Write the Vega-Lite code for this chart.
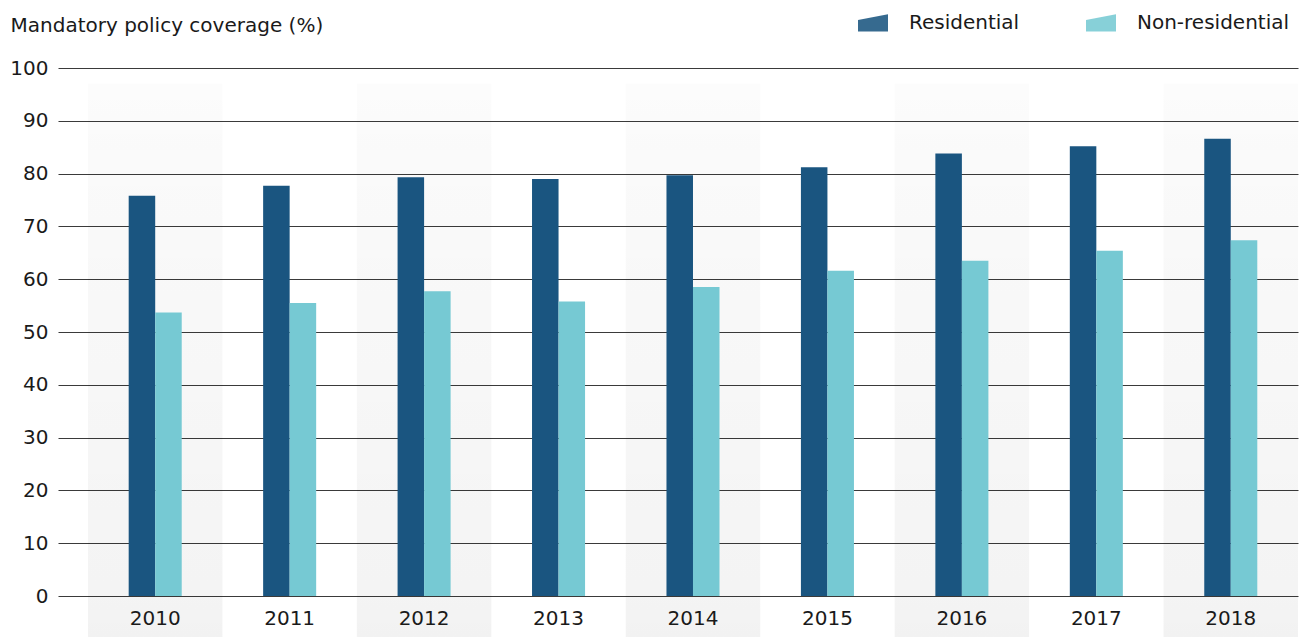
{
  "$schema": "https://vega.github.io/schema/vega-lite/v6.json",
  "width": 1240,
  "height": 528,
  "autosize": "none",
  "padding": {"left": 58, "top": 68, "right": 1, "bottom": 41},
  "background": "white",
  "config": {"view": {"stroke": null}, "font": "DejaVu Sans"},
  "datasets": {
    "bars": [
      {"year": 2010, "type": "Residential", "value": 75.8},
      {"year": 2010, "type": "Non-residential", "value": 53.7},
      {"year": 2011, "type": "Residential", "value": 77.7},
      {"year": 2011, "type": "Non-residential", "value": 55.5},
      {"year": 2012, "type": "Residential", "value": 79.3},
      {"year": 2012, "type": "Non-residential", "value": 57.7},
      {"year": 2013, "type": "Residential", "value": 79.0},
      {"year": 2013, "type": "Non-residential", "value": 55.8},
      {"year": 2014, "type": "Residential", "value": 79.7},
      {"year": 2014, "type": "Non-residential", "value": 58.5},
      {"year": 2015, "type": "Residential", "value": 81.2},
      {"year": 2015, "type": "Non-residential", "value": 61.6},
      {"year": 2016, "type": "Residential", "value": 83.8},
      {"year": 2016, "type": "Non-residential", "value": 63.5},
      {"year": 2017, "type": "Residential", "value": 85.2},
      {"year": 2017, "type": "Non-residential", "value": 65.4},
      {"year": 2018, "type": "Residential", "value": 86.6},
      {"year": 2018, "type": "Non-residential", "value": 67.4}
    ],
    "bands": [
      {"year": 2010}, {"year": 2012}, {"year": 2014}, {"year": 2016}, {"year": 2018}
    ]
  },
  "encoding": {
    "x": {
      "field": "year",
      "type": "ordinal",
      "scale": {
        "type": "band",
        "domain": [2010, 2011, 2012, 2013, 2014, 2015, 2016, 2017, 2018],
        "paddingInner": 0,
        "paddingOuter": 0.1115,
        "align": 1
      },
      "axis": {
        "title": null,
        "labelAngle": 0,
        "labelFontSize": 20,
        "labelColor": "#1a1a1a",
        "labelPadding": 12,
        "ticks": false,
        "domain": false
      }
    }
  },
  "layer": [
    {
      "data": {"name": "bands"},
      "mark": {
        "type": "rect",
        "clip": false,
        "color": {
          "gradient": "linear",
          "x1": 0, "y1": 0, "x2": 0, "y2": 1,
          "stops": [
            {"offset": 0, "color": "rgba(0,0,0,0.012)"},
            {"offset": 0.12, "color": "rgba(0,0,0,0.02)"},
            {"offset": 0.9, "color": "rgba(0,0,0,0.045)"},
            {"offset": 1, "color": "rgba(0,0,0,0.05)"}
          ]
        }
      },
      "encoding": {
        "y": {"datum": 97, "type": "quantitative", "title": "Mandatory policy coverage (%)"},
        "y2": {"datum": -7.8}
      }
    },
    {
      "data": {"name": "bars"},
      "mark": {"type": "bar"},
      "encoding": {
        "xOffset": {
          "field": "type",
          "type": "nominal",
          "scale": {"domain": ["left", "Residential", "Non-residential", "right"], "paddingInner": 0, "paddingOuter": 0.535}
        },
        "y": {
          "field": "value",
          "type": "quantitative",
          "title": "Mandatory policy coverage (%)",
          "scale": {"domain": [0, 100], "nice": false},
          "axis": {
            "values": [0, 10, 20, 30, 40, 50, 60, 70, 80, 90, 100],
            "grid": true,
            "gridColor": "#3a3a3a",
            "gridWidth": 1.2,
            "domain": false,
            "ticks": false,
            "labelPadding": 10,
            "labelFontSize": 20,
            "labelColor": "#1a1a1a",
            "titleAngle": 0,
            "titleAlign": "left",
            "titleBaseline": "middle",
            "titleX": -48,
            "titleY": -43,
            "titleFontSize": 20,
            "titleFontWeight": "normal",
            "titleColor": "#1a1a1a"
          }
        },
        "color": {
          "field": "type",
          "type": "nominal",
          "scale": {"domain": ["Residential", "Non-residential"], "range": ["#1a5580", "#76c9d3"]},
          "legend": {
            "title": null,
            "orient": "none",
            "legendX": 800,
            "legendY": -60,
            "direction": "horizontal",
            "symbolType": "M -1 -0.2 L 1 -0.58 L 1 0.57 L -1 0.57 Z",
            "symbolSize": 900,
            "symbolStrokeWidth": 0,
            "symbolOpacity": 0.88,
            "labelFontSize": 20,
            "labelColor": "#1a1a1a",
            "labelOffset": 21,
            "columnPadding": 66
          }
        }
      }
    }
  ]
}
